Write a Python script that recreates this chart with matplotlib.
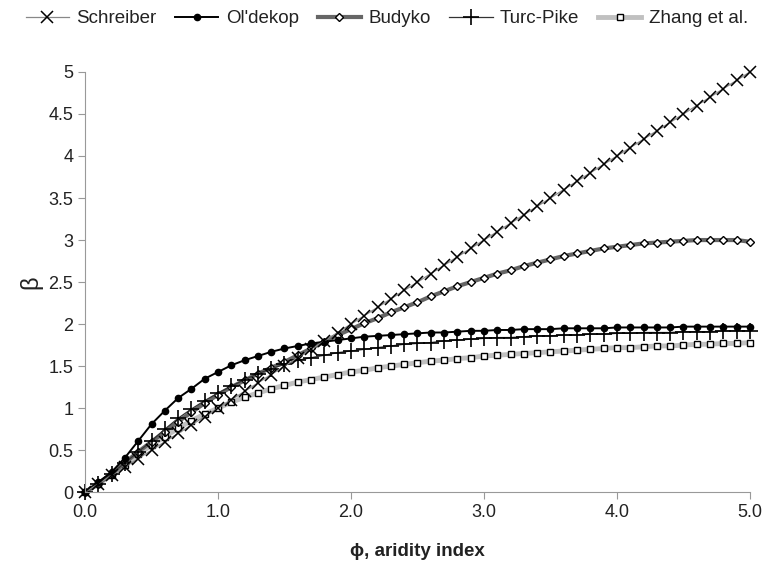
import numpy as np
from matplotlib import pyplot as plt
from matplotlib.ticker import FuncFormatter

plt.rcParams['font.family'] = ['Liberation Sans', 'DejaVu Sans']

phi = np.round(np.arange(0, 51) * 0.1, 1)

schreiber = [0.0, 0.1, 0.2, 0.3, 0.4, 0.5, 0.6, 0.7, 0.8, 0.9,
             1.0, 1.1, 1.2, 1.3, 1.4, 1.5, 1.6, 1.7, 1.8, 1.9,
             2.0, 2.1, 2.2, 2.3, 2.4, 2.5, 2.6, 2.7, 2.8, 2.9,
             3.0, 3.1, 3.2, 3.3, 3.4, 3.5, 3.6, 3.7, 3.8, 3.9,
             4.0, 4.1, 4.2, 4.3, 4.4, 4.5, 4.6, 4.7, 4.8, 4.9, 5.0]
oldekop = [0.0, 0.12, 0.24, 0.41, 0.61, 0.81, 0.97, 1.12, 1.23, 1.35,
           1.43, 1.51, 1.57, 1.62, 1.67, 1.71, 1.74, 1.77, 1.79, 1.81,
           1.83, 1.85, 1.86, 1.87, 1.88, 1.89, 1.90, 1.90, 1.91, 1.92,
           1.92, 1.93, 1.93, 1.94, 1.94, 1.94, 1.95, 1.95, 1.95, 1.95,
           1.96, 1.96, 1.96, 1.96, 1.96, 1.97, 1.97, 1.97, 1.97, 1.97, 1.97]
budyko = [0.0, 0.1, 0.22, 0.35, 0.48, 0.6, 0.72, 0.84, 0.95, 1.06,
          1.16, 1.25, 1.33, 1.41, 1.48, 1.55, 1.63, 1.71, 1.79, 1.87,
          1.94, 2.01, 2.07, 2.14, 2.20, 2.26, 2.33, 2.39, 2.45, 2.50,
          2.55, 2.60, 2.64, 2.69, 2.73, 2.77, 2.81, 2.84, 2.87, 2.90,
          2.92, 2.94, 2.96, 2.97, 2.98, 2.99, 3.0, 3.0, 3.0, 3.0, 2.98]
turc_pike = [0.0, 0.1, 0.22, 0.35, 0.48, 0.61, 0.75, 0.88, 0.99, 1.09,
             1.18, 1.26, 1.34, 1.41, 1.47, 1.52, 1.57, 1.60, 1.63, 1.66,
             1.68, 1.70, 1.72, 1.74, 1.76, 1.77, 1.78, 1.80, 1.81, 1.82,
             1.83, 1.84, 1.84, 1.85, 1.86, 1.86, 1.87, 1.87, 1.88, 1.88,
             1.89, 1.89, 1.90, 1.90, 1.90, 1.91, 1.91, 1.91, 1.92, 1.92, 1.92]
zhang = [0.0, 0.1, 0.2, 0.32, 0.45, 0.56, 0.66, 0.76, 0.85, 0.93,
         1.0, 1.07, 1.13, 1.18, 1.23, 1.27, 1.31, 1.34, 1.37, 1.40,
         1.43, 1.45, 1.48, 1.50, 1.52, 1.54, 1.56, 1.57, 1.59, 1.60,
         1.62, 1.63, 1.64, 1.65, 1.66, 1.67, 1.68, 1.69, 1.70, 1.71,
         1.72, 1.72, 1.73, 1.74, 1.74, 1.75, 1.76, 1.76, 1.77, 1.77, 1.78]

fig = plt.figure(figsize=(7.66, 5.71), dpi=100)
ax = fig.add_axes([0.111, 0.138, 0.868, 0.736])

ax.plot(phi, zhang, color='#c0c0c0', lw=3.5, marker='s', ms=4.5, mfc='white',
        mec='black', mew=1, label='Zhang et al.', clip_on=False)
ax.plot(phi, budyko, color='#666666', lw=3, marker='D', ms=4.5, mfc='white',
        mec='black', mew=1, label='Budyko', clip_on=False)
ax.plot(phi, turc_pike, color='#333333', lw=0.9, marker='+', ms=11, mec='black',
        mew=1.2, label='Turc-Pike', clip_on=False)
ax.plot(phi, oldekop, color='black', lw=1.4, marker='o', ms=4.5, mfc='black',
        mec='black', label="Ol'dekop", clip_on=False)
ax.plot(phi, schreiber, color='#888888', lw=0.9, marker='x', ms=9, mec='black',
        mew=1.1, label='Schreiber', clip_on=False)

ax.set_xlim(0, 5)
ax.set_ylim(0, 5)
ax.set_xticks(np.arange(0, 6, 1))
ax.set_yticks(np.arange(0, 5.5, 0.5))
ax.xaxis.set_major_formatter(FuncFormatter(lambda v, p: '%.1f' % v))
ax.yaxis.set_major_formatter(FuncFormatter(lambda v, p: '%g' % v))
ax.tick_params(colors='#999999', labelcolor='#222222', labelsize=13,
               direction='out', length=5)
for s in ['top', 'right']:
    ax.spines[s].set_visible(False)
for s in ['left', 'bottom']:
    ax.spines[s].set_color('#999999')

ax.set_xlabel('\u03d5, aridity index', fontsize=13.5, fontweight='bold',
              color='#222222', labelpad=16)
ax.set_ylabel('\u03b2', fontsize=17, color='#222222', labelpad=4)

h, l = ax.get_legend_handles_labels()
order = [4, 3, 1, 2, 0]
fig.legend([h[i] for i in order], [l[i] for i in order], loc='upper center',
           bbox_to_anchor=(0.505, 1.012), ncol=5, frameon=False, fontsize=13.5,
           handlelength=2.3, columnspacing=1.0, handletextpad=0.4,
           labelcolor='#222222')

fig.savefig('out.png', dpi=100)
